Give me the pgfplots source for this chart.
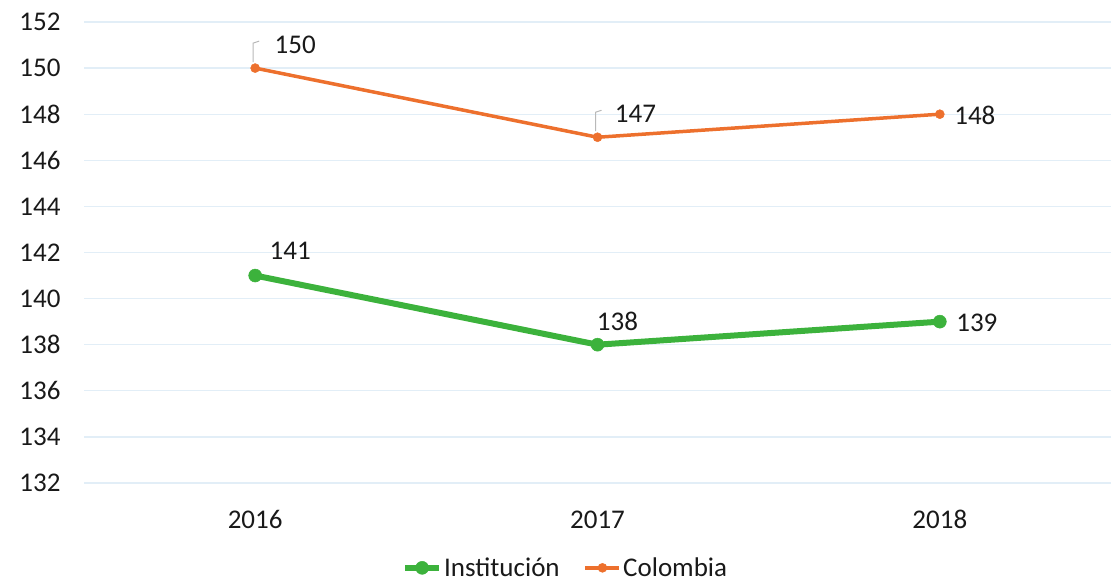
\documentclass[border=0pt]{standalone}
\usepackage{pgfplots}
\pgfplotsset{compat=1.18}
\usepackage{pgfplotstable}
\usepackage{fontspec}
\setmainfont{Carlito}
\definecolor{cgreen}{RGB}{60,178,60}
\definecolor{corange}{RGB}{237,112,45}
\definecolor{cgrid}{RGB}{226,238,247}
\definecolor{ctext}{RGB}{25,25,25}
\pgfplotstableread{
x y dx dy
0 141 35 25
1 138 20 23
2 139 37 -1
}\institucion
\pgfplotstableread{
x y dx dy
0 150 40 23
1 147 38 23
2 148 35 -1
}\colombia
\pgfplotsset{lbl/.style={
  visualization depends on={\thisrow{dx} \as \dx},
  visualization depends on={\thisrow{dy} \as \dy},
  nodes near coords,
  nodes near coords style={anchor=center, xshift=\dx pt, yshift=\dy pt,
    font=\fontsize{27}{32}\selectfont, text=ctext},
}}
\begin{document}
\begin{tikzpicture}
\begin{axis}[
  scale only axis, width=1027pt, height=461pt,
  xmin=-0.5, xmax=2.5, ymin=132, ymax=152,
  xtick={0,1,2}, xticklabels={2016,2017,2018},
  ytick={132,134,...,152},
  ymajorgrids, grid style={cgrid, line width=1.2pt},
  axis line style={draw=none}, major tick length=0pt,
  tick label style={font=\fontsize{27}{32}\selectfont, text=ctext},
  /pgf/number format/assume math mode=true,
  yticklabel style={xshift=-20pt},
  xticklabel style={yshift=-24pt},
  clip=false,
  legend columns=2,
  legend style={draw=none, fill=none, at={(0.469,-0.184)}, anchor=center,
    font=\fontsize{27}{32}\selectfont, text=ctext,
    /tikz/every even column/.append style={column sep=22pt},
    inner sep=0pt},
  legend cell align=left,
  legend image code/.code={\draw[mark repeat=2,mark phase=2,#1] plot coordinates {(0pt,0pt) (17pt,0pt) (34pt,0pt)};},
]
\addplot[cgreen, line width=6pt, mark=*, mark size=6.5pt, mark options={solid, line width=0.5pt}, lbl] table[x=x,y=y] {\institucion};
\addlegendentry{Institución}
\addplot[corange, line width=3.5pt, mark=*, mark size=4.5pt, mark options={solid, line width=0.5pt}, lbl] table[x=x,y=y] {\colombia};
\addlegendentry{Colombia}
\draw[gray!55, line width=1pt] (axis cs:0,150) ++(-2pt,6pt) -- ++(0pt,19pt) -- ++(6pt,2pt);
\draw[gray!55, line width=1pt] (axis cs:1,147) ++(-2pt,6pt) -- ++(0pt,19pt) -- ++(6pt,2pt);
\coordinate (bl) at (rel axis cs:0,0);
\coordinate (tr) at (rel axis cs:1,1);
\end{axis}
\pgfresetboundingbox
\path[use as bounding box] ([shift={(-84pt,-100pt)}]bl) rectangle ([shift={(1pt,22pt)}]tr);
\end{tikzpicture}
\end{document}
